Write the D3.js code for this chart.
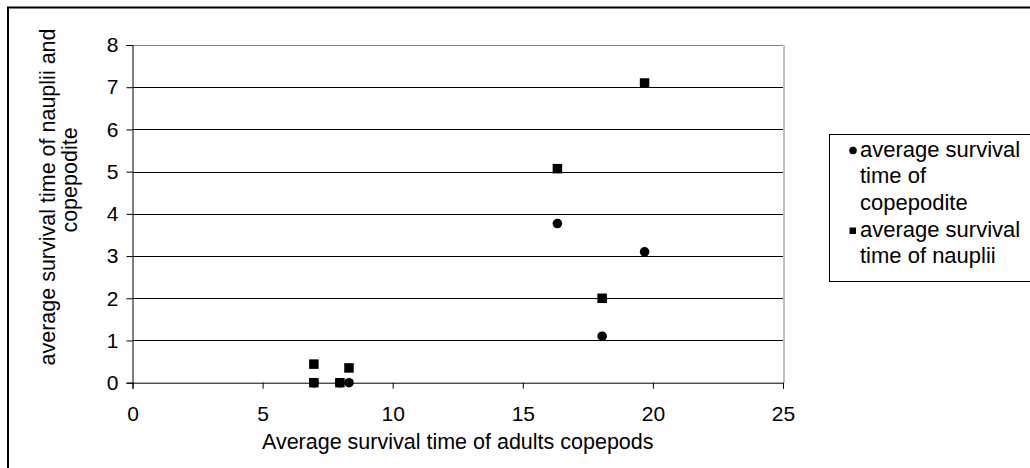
<!DOCTYPE html>
<html>
<head>
<meta charset="utf-8">
<script src="https://cdn.jsdelivr.net/npm/d3@7"></script>
<style>
  body { margin: 0; background: #fff; }
  svg { display: block; font-family: "Liberation Sans", Arial, sans-serif; }
  .axis text { font-size: 21px; fill: #000; }
  .label { font-size: 21.5px; fill: #000; }
  .legend text { font-size: 22px; fill: #000; }
</style>
</head>
<body>
<svg id="chart" width="1030" height="468"></svg>
<script>
// adults survival time (x) and the two younger stages (y)
const adultTime = [6.97, 6.97, 7.97, 8.32, 16.33, 18.05, 19.68];
const copepoditeTime = [0, 0, 0, 0, 3.77, 1.1, 3.1];
const naupliiTime = [0.44, 0, 0, 0.35, 5.07, 2.0, 7.1];
const xTicks = [0, 5, 10, 15, 20, 25];
const yTicks = [0, 1, 2, 3, 4, 5, 6, 7, 8];
const legendLabels = [
  ["average survival", "time of", "copepodite"],
  ["average survival", "time of nauplii"],
];

const config = {
  margin: { top: 45, left: 132.5 },
  width: 650.5,
  height: 337.7,
};

const root = d3.select("#chart");

// outer chart border
root
  .append("rect")
  .attr("x", 8)
  .attr("y", 7.5)
  .attr("width", 1100)
  .attr("height", 500)
  .attr("fill", "none")
  .attr("stroke", "#000")
  .attr("stroke-width", 2);

const svg = root
  .append("g")
  .attr("transform", `translate(${config.margin.left}, ${config.margin.top})`);

const xScale = d3.scaleLinear().domain([0, 25]).range([0, config.width]);
const yScale = d3.scaleLinear().domain([0, 8]).range([config.height, 0]);

// horizontal gridlines
svg
  .append("g")
  .attr("class", "grid")
  .selectAll("line")
  .data(yTicks.filter((d) => d > 0))
  .join("line")
  .attr("x1", 0)
  .attr("x2", config.width)
  .attr("y1", (d) => Math.round(yScale(d)) + 0.5)
  .attr("y2", (d) => Math.round(yScale(d)) + 0.5)
  .attr("stroke", (d) => (d === 8 ? "#808080" : "#000"))
  .attr("stroke-width", 1);

// right border of plot area
svg
  .append("line")
  .attr("x1", Math.round(config.width) + 0.5)
  .attr("x2", Math.round(config.width) + 0.5)
  .attr("y1", Math.round(yScale(8)) + 0.5)
  .attr("y2", config.height)
  .attr("stroke", "#808080");

// x and y axis
const xAxis = svg
  .append("g")
  .attr("class", "axis axis-x")
  .attr("transform", `translate(0, ${config.height})`)
  .call(d3.axisBottom(xScale).tickValues(xTicks).tickSize(6).tickPadding(17));
const yAxis = svg
  .append("g")
  .attr("class", "axis axis-y")
  .call(d3.axisLeft(yScale).tickValues(yTicks).tickSize(6).tickPadding(8));

[xAxis, yAxis].forEach((ax) => {
  ax.select(".domain").attr("stroke", "#000");
  ax.selectAll(".tick line").attr("stroke", "#000");
  ax.attr("font-family", null).attr("font-size", null);
});

// x-axis label
svg
  .append("text")
  .attr("class", "label")
  .attr("text-anchor", "middle")
  .attr("x", config.width / 2)
  .attr("y", 404)
  .text("Average survival time of adults copepods");

// y-axis label, two lines
svg
  .append("text")
  .attr("class", "label")
  .attr("text-anchor", "middle")
  .attr("transform", `translate(-78, ${197 - config.margin.top}) rotate(-90)`)
  .text("average survival time of nauplii and");
svg
  .append("text")
  .attr("class", "label")
  .attr("text-anchor", "middle")
  .attr("transform", `translate(-56, ${180 - config.margin.top}) rotate(-90)`)
  .text("copepodite");

// scatter points: copepodite as circles
svg
  .selectAll(".circle-copepodite")
  .data(adultTime.map((x, i) => ({ x, y: copepoditeTime[i] })))
  .join("circle")
  .attr("class", "circle-copepodite")
  .attr("cx", (d) => xScale(d.x))
  .attr("cy", (d) => yScale(d.y))
  .attr("r", 4.8)
  .attr("fill", "#000");

// nauplii as squares
const sq = 9.5;
svg
  .selectAll(".square-nauplii")
  .data(adultTime.map((x, i) => ({ x, y: naupliiTime[i] })))
  .join("rect")
  .attr("class", "square-nauplii")
  .attr("x", (d) => xScale(d.x) - sq / 2)
  .attr("y", (d) => yScale(d.y) - sq / 2)
  .attr("width", sq)
  .attr("height", sq)
  .attr("fill", "#000");

// legend
const legend = root.append("g").attr("class", "legend");
legend
  .append("rect")
  .attr("x", 829.5)
  .attr("y", 134.5)
  .attr("width", 220)
  .attr("height", 147)
  .attr("fill", "#fff")
  .attr("stroke", "#000");

const lineGap = 26.5;
const itemTop = [156.5, 236.5];
legendLabels.forEach((lines, i) => {
  if (i === 0) {
    legend
      .append("circle")
      .attr("cx", 853)
      .attr("cy", itemTop[i] - 6)
      .attr("r", 3.8)
      .attr("fill", "#000");
  } else {
    legend
      .append("rect")
      .attr("x", 849.5)
      .attr("y", itemTop[i] - 9)
      .attr("width", 6.5)
      .attr("height", 6.5)
      .attr("fill", "#000");
  }
  lines.forEach((t, j) => {
    legend
      .append("text")
      .attr("x", 860)
      .attr("y", itemTop[i] + j * lineGap)
      .text(t);
  });
});
</script>
</body>
</html>
